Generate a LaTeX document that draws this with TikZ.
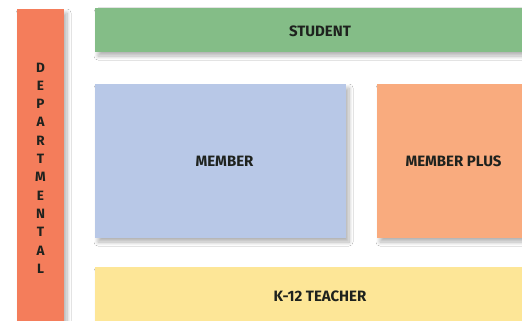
\documentclass[tikz,border=0pt]{standalone}
\usepackage{fontspec}
\setmainfont{Fira Sans}
\usetikzlibrary{shadows.blur}
\definecolor{deptred}{HTML}{F47D5B}
\definecolor{studentgreen}{HTML}{84BD87}
\definecolor{memberblue}{HTML}{B8C8E7}
\definecolor{plusorange}{HTML}{F9AB7E}
\definecolor{teacheryellow}{HTML}{FDE697}
\definecolor{tiertext}{HTML}{1E221E}
\tikzset{
	tierbox/.style={draw=none, blur shadow={shadow xshift=3pt, shadow yshift=-4pt, shadow opacity=30, shadow blur radius=4pt, shadow blur steps=8}},
	tierlabel/.style={font=\bfseries\fontsize{15}{15}\selectfont, text=tiertext},
	deptlabel/.style={font=\bfseries\fontsize{13.5}{18.3}\selectfont, text=tiertext, align=center}
}

\begin{document}
\begin{tikzpicture}[x=1pt, y=-1pt]
			%%%%% START %%%%%
			
			\useasboundingbox (0, 0) rectangle (522, 321);
			\fill[white] (0, 0) rectangle (522, 321);
			
			\draw[tierbox, fill=deptred] (17, 9) rectangle (64, 335);
			\node[deptlabel] (departmental) at (40.5, 168) {D\\E\\P\\A\\R\\T\\M\\E\\N\\T\\A\\L};
			
			\draw[tierbox, fill=studentgreen] (95, 8) rectangle (545, 52);
			\node[tierlabel] (student) at (320, 31.5) {STUDENT};
			
			\draw[tierbox, fill=memberblue] (95, 84) rectangle (346, 238);
			\node[tierlabel] (member) at (224.5, 161) {MEMBER};
			
			\draw[tierbox, fill=plusorange] (377, 84) rectangle (530, 238);
			\node[tierlabel] (memberplus) at (453.5, 161) {MEMBER PLUS};
			
			\draw[tierbox, fill=teacheryellow] (95, 267) rectangle (545, 335);
			\node[tierlabel] (teacher) at (320, 296) {K-12 TEACHER};
			
			%%%%% END %%%%%
\end{tikzpicture}
\end{document}
